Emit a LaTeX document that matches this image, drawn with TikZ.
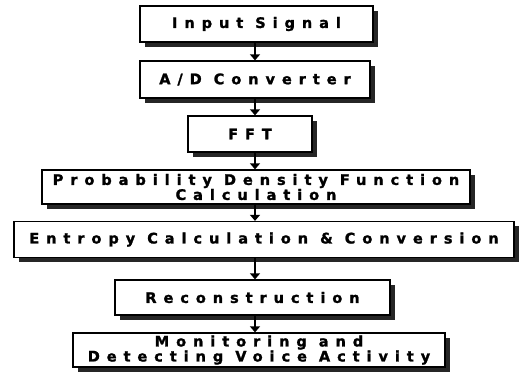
\documentclass[tikz,border=0pt]{standalone}
\usepackage{fontspec}
\setmainfont{DejaVu Sans}[LetterSpace=48, BoldFeatures={FakeBold=1.5}]
\usetikzlibrary{arrows.meta,shadows}
\tikzset{
  box/.style={draw, line width=1.3pt, fill=white, inner sep=0pt, align=center,
    font=\bfseries\fontsize{14.5}{15}\selectfont,
    general shadow={fill=black!85, shadow xshift=5pt, shadow yshift=-4.5pt}},
  arr/.style={line width=1.3pt, -{Triangle[length=6pt,width=10pt]}}
}
\begin{document}
\begin{tikzpicture}[x=1pt,y=1pt]
\useasboundingbox (0,0) rectangle (528,-376);
\coordinate (ax) at (255,0);
\node[box, minimum width=233pt, minimum height=36pt] (n1) at (256.5,-24) {Input Signal};
\node[box, minimum width=230pt, minimum height=37pt] (n2) at (255,-79.5) {A/D Converter};
\node[box, minimum width=124pt, minimum height=36pt] (n3) at (250,-134) {FFT};
\node[box, minimum width=428pt, minimum height=34pt] (n4) at (256,-187) {Probability Density Function\\Calculation};
\node[box, minimum width=500pt, minimum height=36pt] (n5) at (264,-239.5) {Entropy Calculation \& Conversion};
\node[box, minimum width=275pt, minimum height=35pt] (n6) at (252.5,-297.5) {Reconstruction};
\node[box, minimum width=372pt, minimum height=34pt] (n7) at (259,-350) {Monitoring and\\Detecting Voice Activity};
\draw[arr] (n1.south -| ax) -- (n2.north -| ax);
\draw[arr] (n2.south -| ax) -- (n3.north -| ax);
\draw[arr] (n3.south -| ax) -- (n4.north -| ax);
\draw[arr] (n4.south -| ax) -- (n5.north -| ax);
\draw[arr] (n5.south -| ax) -- (n6.north -| ax);
\draw[arr] (n6.south -| ax) -- (n7.north -| ax);
\end{tikzpicture}
\end{document}
